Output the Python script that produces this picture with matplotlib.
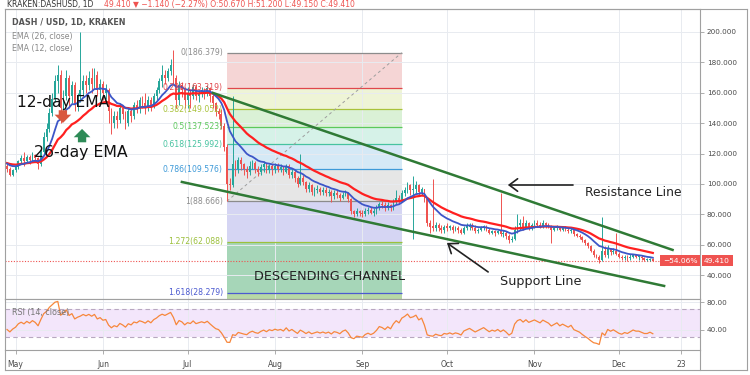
import matplotlib
matplotlib.use("Agg")
import matplotlib.pyplot as plt
from matplotlib.lines import Line2D
import numpy as np
import pandas as pd

# KRAKEN DASH/USD daily candles, 28 Apr - 13 Dec 2019
start = "2019-04-28"
open0 = 112.0
close = [
    110, 106, 109,
    111, 115, 117, 115, 118, 116, 119, 117, 113, 121, 131, 136, 147, 156, 168, 172,
    150, 158, 170, 158, 165, 152, 158, 162, 168, 165, 170, 166, 172, 162, 166,
    160, 162, 148, 140, 145, 142, 150, 146, 140, 148, 145, 152, 150, 155, 153,
    150, 155, 151, 158, 162, 168, 172, 170, 174, 178, 170, 155, 165, 162, 155,
    160, 158, 164, 158, 160, 162, 160, 163, 158, 153, 148, 146, 138, 124, 100, 99,
    113, 110, 116, 113, 110, 108, 112, 114, 110, 108, 111, 113, 109, 112, 110,
    112, 110, 111, 108, 112, 106, 108, 104, 100, 104, 101, 97, 99, 95, 96, 97,
    95, 96, 94, 95, 92, 94, 93, 91, 93, 94, 90, 82, 80, 82, 81,
    80, 82, 83, 81, 82, 84, 87, 86, 84, 86, 84, 88, 91, 89, 94,
    96, 99, 96, 97, 99, 95, 97, 90, 74, 72, 71, 73, 71, 70, 72,
    71, 72, 70, 71, 70, 68, 71, 72, 73, 71, 69, 70, 71, 72, 70, 68,
    69, 68, 69, 67, 68, 66, 63, 64, 70, 73, 74, 72, 74, 72, 73,
    74, 73, 72, 74, 73, 72, 70, 71, 72, 70, 71, 70, 69, 70, 67,
    66, 65, 63, 61, 59, 56, 53, 52, 50, 56, 53, 57, 55, 56, 54,
    52, 51, 52, 51, 52, 53, 52, 52, 51, 50, 50, 50.55, 49.41,
]
high = [
    113, 111, 110,
    112, 116, 119, 121, 119, 119, 121, 120, 118, 124, 134, 140, 150, 160, 172, 178,
    175, 162, 175, 172, 168, 167, 160, 200, 172, 172, 174, 176, 176, 174, 169,
    168, 166, 163, 150, 148, 148, 153, 152, 148, 150, 150, 154, 155, 157, 158,
    160, 158, 157, 160, 164, 170, 178, 175, 176, 182, 188, 172, 168, 167, 164,
    164, 162, 166, 166, 162, 164, 163, 165, 164, 160, 154, 150, 149, 140, 126, 104,
    158, 116, 118, 118, 114, 112, 115, 116, 115, 112, 113, 115, 114, 113, 113,
    114, 114, 113, 112, 113, 113, 110, 109, 105, 120, 106, 102, 101, 100, 98, 99,
    98, 98, 98, 97, 96, 96, 96, 94, 95, 96, 95, 91, 83, 84, 83,
    83, 84, 85, 85, 84, 86, 88, 89, 88, 88, 87, 90, 96, 93, 96,
    98, 101, 100, 105, 102, 100, 98, 97, 91, 76, 103, 75, 74, 73, 73,
    74, 73, 73, 72, 72, 71, 72, 74, 74, 74, 73, 71, 72, 73, 73, 71,
    70, 70, 70, 94, 70, 69, 67, 66, 72, 80, 77, 79, 76, 75, 74,
    76, 76, 75, 76, 75, 74, 73, 72, 73, 72, 72, 72, 71, 71, 70,
    68, 67, 66, 64, 62, 60, 57, 54, 53, 78, 59, 60, 58, 58, 68,
    55, 53, 53, 53, 54, 54, 54, 53, 53, 52, 51, 51, 51.2,
]
low = [
    108, 105, 105,
    108, 110, 113, 112, 114, 113, 115, 115, 110, 112, 120, 128, 134, 145, 154, 160,
    140, 148, 155, 150, 153, 148, 148, 154, 158, 160, 162, 160, 163, 158, 155,
    155, 156, 140, 133, 137, 137, 140, 143, 136, 138, 141, 143, 147, 147, 150,
    146, 148, 148, 150, 155, 160, 164, 166, 168, 172, 165, 150, 152, 157, 150,
    150, 150, 156, 155, 154, 157, 156, 158, 154, 150, 145, 143, 136, 122, 89, 96,
    98, 105, 107, 109, 106, 104, 106, 110, 107, 105, 106, 108, 107, 107, 106,
    107, 108, 108, 106, 107, 104, 104, 101, 98, 99, 99, 95, 95, 93, 92, 94,
    93, 93, 92, 92, 88, 90, 91, 89, 90, 92, 88, 80, 78, 79, 79,
    78, 79, 80, 80, 79, 80, 83, 84, 82, 83, 82, 83, 87, 87, 88,
    92, 94, 93, 64, 94, 93, 93, 88, 72, 68, 69, 69, 69, 68, 68,
    69, 70, 68, 69, 68, 67, 67, 70, 70, 70, 68, 68, 69, 70, 69, 67,
    67, 66, 67, 66, 65, 64, 61, 62, 63, 68, 70, 70, 71, 70, 70,
    71, 72, 71, 71, 71, 71, 61, 69, 70, 69, 69, 69, 68, 68, 66,
    65, 64, 62, 60, 58, 55, 52, 51, 48, 49, 52, 51, 53, 54, 53,
    51, 50, 50, 49, 50, 51, 51, 50, 50, 49, 49, 49, 49.15,
]
ema_seed = 114.0            # EMA level at the left edge of the chart
rsi_seed = (1.4, 1.9)       # avg gain / avg loss at the left edge

# fibonacci retracement (Jul 15 -> Sep 15)
fib_ratio = [0, 0.236, 0.382, 0.5, 0.618, 0.786, 1, 1.272, 1.618, 2.618]
fib_level = [186.379, 163.319, 149.052, 137.523, 125.992, 109.576, 88.666, 62.088, 28.279, -69.43]
fib_span = ("2019-07-15", "2019-09-15")
fib_line = ["#8c8c8c", "#e0474c", "#a9c23a", "#5cc85c", "#47c3a0", "#3e9ad8", "#8c8c8c", "#9cc03c", "#4c5ad0"]
fib_fill = ["#f5d5d5", "#eef4d6", "#daf1d6", "#d6f2e8", "#d5e9f6", "#e6e6e6", "#d5d5f3", "#a6d6b8", "#b8d8a6"]

# channel lines (date, price)
res_pts = (["2019-07-10", "2019-12-20"], [159.9, 56.6])
sup_pts = (["2019-06-29", "2019-12-17"], [101.3, 32.9])
last_price = 49.41

base = pd.Timestamp("2019-05-01")
def day(s):
    return (pd.Timestamp(s) - base).days

dates = pd.date_range(start, periods=len(close), freq="D")
x = np.asarray((dates - base).days, dtype=float)
c = np.array(close, float)
h = np.array(high, float)
lo = np.array(low, float)
o = np.concatenate([[open0], c[:-1]])
up = c >= o

ema12 = pd.Series([ema_seed] + close).ewm(span=12, adjust=False).mean().to_numpy()[1:]
ema26 = pd.Series([ema_seed] + close).ewm(span=26, adjust=False).mean().to_numpy()[1:]

ag, al = rsi_seed
rsi = []
for dlt in np.diff(np.concatenate([[open0], c])):
    ag = (ag * 13 + max(dlt, 0)) / 14
    al = (al * 13 + max(-dlt, 0)) / 14
    rsi.append(100 - 100 / (1 + ag / al))

W, H = 750, 375
fig = plt.figure(figsize=(7.5, 3.75), dpi=100)
fx = lambda px: px / W
fy = lambda py: 1 - py / H
ax = fig.add_axes([fx(5), fy(299), fx(700) - fx(5), fy(9) - fy(299)])
rx = fig.add_axes([fx(5), fy(350), fx(700) - fx(5), fy(299) - fy(350)], sharex=ax)

grid_c = "#e8ebf0"
spine_c = "#a0a0a0"
txt_c = "#4a4a4a"
green, red = "#26a69a", "#ef5350"

xmin, xmax = (5 - 15.5) / 2.82, (700 - 15.5) / 2.82
ax.set_xlim(xmin, xmax)
ax.set_ylim(24.3, 215.1)
rx.set_ylim(10.6, 85.0)

months = pd.date_range("2019-05-01", "2019-12-01", freq="MS")
xt = [day(m) for m in months] + [day("2019-12-23")]
xl = [m.strftime("%b") for m in months] + ["23"]

for a in (ax, rx):
    a.set_xticks(xt)
    a.grid(True, color=grid_c, lw=0.7, zorder=0)
    a.set_axisbelow(True)
    a.yaxis.tick_right()
    for s in a.spines.values():
        s.set_color(spine_c)
        s.set_linewidth(0.8)
    a.tick_params(axis="y", length=3, width=0.6, color=spine_c, pad=2,
                  labelsize=5.2, labelcolor=txt_c)
ax.tick_params(axis="x", length=0, labelbottom=False)
rx.tick_params(axis="x", length=3, width=0.6, color=spine_c, pad=4,
               labelsize=5.5, labelcolor=txt_c)
rx.set_xticklabels(xl)

ax.set_yticks(range(40, 201, 20))
ax.set_yticklabels([f"{v:.3f}" for v in range(40, 201, 20)])
rx.set_yticks([40, 80])
rx.set_yticklabels(["40.00", "80.00"])

# fibonacci bands
fx0, fx1 = day(fib_span[0]), day(fib_span[1])
for i in range(len(fib_fill)):
    ax.fill_between([fx0, fx1], fib_level[i + 1], fib_level[i], color=fib_fill[i], lw=0, zorder=0.5)
for i in range(len(fib_line)):
    ax.hlines(fib_level[i], fx0, fx1, color=fib_line[i], lw=0.9, zorder=0.6)
    ax.text(fx0 - 1.5, fib_level[i], f"{fib_ratio[i]:g}({fib_level[i]:.3f})", ha="right",
            va="center", color=fib_line[i], fontsize=5.6, zorder=6)
ax.plot([fx0, fx1], [fib_level[6], fib_level[0]], color="#9e9e9e", lw=0.7, ls=(0, (3, 3)), zorder=0.7)

# candles
col = np.where(up, green, red)
ax.vlines(x, lo, h, colors=col, lw=0.7, zorder=3)
ax.bar(x, np.maximum(np.abs(c - o), 0.35), bottom=np.minimum(o, c), width=0.62,
       color=col, lw=0, zorder=3.1)

ax.plot(x, ema26, color="#ff2020", lw=1.6, zorder=4)
ax.plot(x, ema12, color="#3d56c8", lw=1.3, zorder=4.1)

ax.axhline(last_price, color=red, lw=0.8, ls=(0, (1, 1.5)), zorder=2)

# channel
ax.plot([day(d) for d in res_pts[0]], res_pts[1], color="#2f7a35", lw=1.8, zorder=5)
ax.plot([day(d) for d in sup_pts[0]], sup_pts[1], color="#2f7a35", lw=1.8, zorder=5)

# annotations
fat = "simple,head_length=0.5,head_width=1.0,tail_width=0.5"
ax.text(17.0, 153.9, "12-day EMA", fontsize=11.2, ha="center", va="center", color="#111", zorder=7)
ax.text(23.2, 120.4, "26-day EMA", fontsize=11.3, ha="center", va="center", color="#111", zorder=7)
ax.annotate("", xy=(16.8, 140.1), xytext=(16.8, 148.5),
            arrowprops=dict(arrowstyle=fat, fc="#d9573e", ec="none", mutation_scale=12,
                            shrinkA=0, shrinkB=0), zorder=7)
ax.annotate("", xy=(23.6, 136.2), xytext=(23.6, 127.4),
            arrowprops=dict(arrowstyle=fat, fc="#2e8b57", ec="none", mutation_scale=12,
                            shrinkA=0, shrinkB=0), zorder=7)
ax.text(111.5, 38.8, "DESCENDING CHANNEL", fontsize=9.2, ha="center", va="center", color="#222", zorder=7)
ax.text(219.0, 94.1, "Resistance Line", fontsize=8.9, ha="center", va="center", color="#222", zorder=7)
ax.text(186.3, 35.5, "Support Line", fontsize=9.2, ha="center", va="center", color="#222", zorder=7)
ax.annotate("", xy=(174.6, 99.3), xytext=(197.7, 99.3),
            arrowprops=dict(arrowstyle="->,head_length=0.6,head_width=0.45", color="#222", lw=1.2,
                            shrinkA=0, shrinkB=0), zorder=7)
ax.annotate("", xy=(153.0, 61.2), xytext=(167.6, 42.1),
            arrowprops=dict(arrowstyle="->,head_length=0.6,head_width=0.45", color="#222", lw=1.2,
                            shrinkA=0, shrinkB=0), zorder=7)

# price labels
tr = ax.get_yaxis_transform()
ax.text(1.006, last_price, "49.410", transform=tr, ha="left", va="center", fontsize=5.4, color="white",
        bbox=dict(boxstyle="square,pad=0.35", fc=red, ec="none"), clip_on=False, zorder=8)
ax.text(0.996, last_price, "\u221254.06%", transform=tr, ha="right", va="center", fontsize=5.4, color="white",
        bbox=dict(boxstyle="square,pad=0.35", fc=red, ec="none"), clip_on=False, zorder=8)

# RSI
rx.axhspan(30, 70, color="#f3e6fb", lw=0, zorder=0.5)
for lvl in (70, 30):
    rx.axhline(lvl, color="#b8a8c0", lw=0.8, ls=(0, (4, 3)), zorder=1)
rx.plot(x, rsi, color="#f7873c", lw=0.9, zorder=3)

# legends / titles
fig.text(fx(12), fy(23), "DASH / USD, 1D, KRAKEN", fontsize=5.8, fontweight="bold", color="#555",
         va="center")
fig.text(fx(12), fy(36), "EMA (26, close)", fontsize=5.7, color="#888", va="center")
fig.text(fx(12), fy(49), "EMA (12, close)", fontsize=5.7, color="#888", va="center")
fig.text(fx(12), fy(313), "RSI (14, close)", fontsize=5.8, color="#777", va="center")
fig.text(fx(7), fy(4.5), "KRAKEN:DASHUSD, 1D", fontsize=5.5, color="#333", va="center")
fig.text(fx(104), fy(4.5), "49.410 \u25bc \u22121.140 (\u22122.27%) O:50.670 H:51.200 L:49.150 C:49.410",
         fontsize=5.5, color=red, va="center")

# outer frame of the chart window
for (x0, y0, x1, y1) in [(5, 370, 747, 370), (5, 9, 747, 9), (5, 350, 5, 370),
                         (700, 350, 700, 370), (747, 9, 747, 370)]:
    fig.add_artist(Line2D([fx(x0), fx(x1)], [fy(y0), fy(y1)], color=spine_c, lw=0.8))

fig.savefig("out.png", dpi=100, facecolor="white")
